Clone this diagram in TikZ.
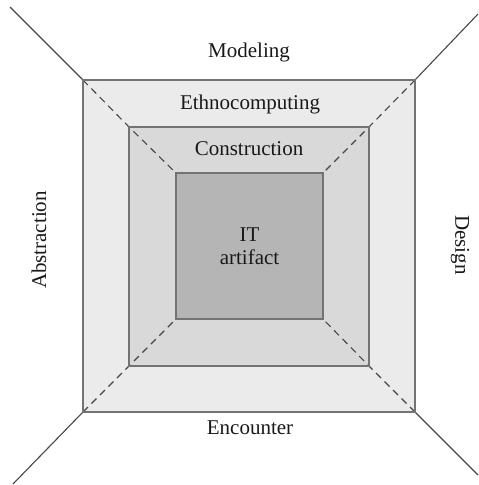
\documentclass[tikz,border=0pt]{standalone}
\usepackage{fontspec}
\setmainfont{Liberation Serif}
\begin{document}
\begin{tikzpicture}[x=1pt,y=-1pt,
  frame/.style={draw=black!55,line width=1.3pt,inner sep=0pt,outer sep=0pt,rectangle},
  spoke/.style={draw=black!72,line width=1.1pt},
  hidden/.style={spoke,dashed,dash pattern=on 7pt off 5pt},
  lbl/.style={font=\fontsize{21}{25}\selectfont,text=black!90,inner sep=0pt}]
\useasboundingbox (0,0) rectangle (479,485);
% nested squares
\node[frame,fill=black!8,minimum width=332pt,minimum height=332pt] (outer) at (249,246) {};
\node[frame,fill=black!15,minimum width=240pt,minimum height=239pt] (mid) at (249,246.5) {};
\node[frame,fill=black!29,minimum width=147pt,minimum height=146pt,lbl,align=center] (core) at (249.5,246) {IT\\[-2pt]artifact};
% free ends of the corner spokes
\coordinate (tl) at (10,7);
\coordinate (tr) at (478,14);
\coordinate (bl) at (13,484);
\coordinate (br) at (478,475);
% spokes outside the frame
\draw[spoke] (tl) -- (outer.north west);
\draw[spoke] (tr) -- (outer.north east);
\draw[spoke] (bl) -- (outer.south west);
\draw[spoke] (br) -- (outer.south east);
% dashed edges of the frustum
\draw[hidden] (outer.north west) -- (mid.north west) -- (core.north west);
\draw[hidden] (outer.north east) -- (mid.north east) -- (core.north east);
\draw[hidden] (outer.south west) -- (mid.south west) -- (core.south west);
\draw[hidden] (outer.south east) -- (mid.south east) -- (core.south east);
% redraw the frame edges over the dashes
\draw[draw=black!55,line width=1.3pt] (outer.north west) rectangle (outer.south east);
\draw[draw=black!55,line width=1.3pt] (mid.north west) rectangle (mid.south east);
\draw[draw=black!55,line width=1.3pt] (core.north west) rectangle (core.south east);
% labels
\node[lbl] (modeling) at (249,52) {Modeling};
\node[lbl] (ethno) at (250,104) {Ethnocomputing};
\node[lbl] (constr) at (249,149) {Construction};
\node[lbl] (encounter) at (250,428) {Encounter};
\node[lbl,rotate=90] (abstr) at (39,240) {Abstraction};
\node[lbl,rotate=-90] (design) at (460,245) {Design};
\end{tikzpicture}
\end{document}
